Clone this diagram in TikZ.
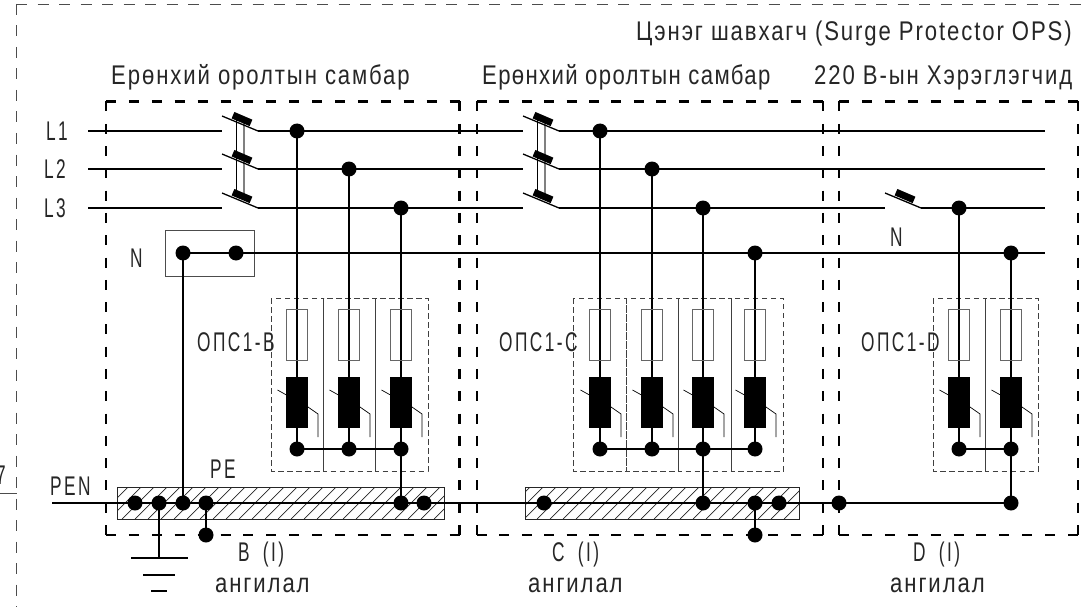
\documentclass[tikz,border=0pt]{standalone}
\usepackage{fontspec}
\setmainfont[FakeStretch=0.82,LetterSpace=7]{Liberation Sans}
\newfontfamily\capsf[FakeStretch=0.64,LetterSpace=9]{Liberation Sans}
\tikzset{
  x=1pt,y=-1pt,
  wire/.style={line width=2pt,black},
  thinw/.style={line width=.7pt,black},
  dot/.style={circle,fill=black,inner sep=0pt,minimum size=15pt},
  lbl/.style={inner sep=0pt,anchor=base west,font=\fontsize{27}{30}\selectfont,text=black!85},
  capl/.style={inner sep=0pt,anchor=base west,font=\fontsize{27}{30}\selectfont\capsf,text=black!85},
  outer/.style={line width=.9pt,black!70,dash pattern=on 11pt off 10.5pt},
  opsbox/.style={line width=.8pt,black!75,dash pattern=on 5.5pt off 3.5pt},
  var/.style={fill=black,draw=none},
  busbar/.style={draw=black!85,line width=.8pt},
  hatch/.style={line width=.7pt,black!85},
  blade/.style={line width=7pt,black},
  sw/.style={line width=1.3pt,black},
}
% thick dashed enclosure with an L at each corner
\newcommand\encl[5]{%
  \coordinate (#1tl) at (#2,#3); \coordinate (#1tr) at (#4,#3);
  \coordinate (#1bl) at (#2,#5); \coordinate (#1br) at (#4,#5);
  \pgfmathsetmacro\hn{round((#4-#2-10)/22.3)}%
  \pgfmathsetmacro\hoff{(#4-#2-10)/\hn-10}%
  \pgfmathsetmacro\vn{round((#5-#3-10)/22.3)}%
  \pgfmathsetmacro\voff{(#5-#3-10)/\vn-10}%
  \draw[line width=2.6pt,dash pattern=on 10pt off \hoff pt] (#1tl) -- (#1tr);
  \draw[line width=2.6pt,dash pattern=on 10pt off \hoff pt] (#1bl) -- (#1br);
  \draw[line width=2.6pt,dash pattern=on 10pt off \voff pt] (#1tl) -- (#1bl);
  \draw[line width=2.6pt,dash pattern=on 10pt off \voff pt] (#1tr) -- (#1br);
}
% breaker: name, left x, line y
\newcommand\brk[3]{%
  \coordinate (#1a) at (#2,#3-15); \coordinate (#1b) at (#2+36,#3);
  \coordinate (#1p) at (#2+11,#3-15.8); \coordinate (#1q) at (#2+29,#3-8.1);
  \draw[sw] (#1a) -- (#1b);
  \draw[blade] (#1p) -- (#1q);
}
% surge module: name, x, feed y
\newcommand\spd[3]{%
  \node[dot] (#1t) at (#2,#3) {};
  \node[dot] (#1d) at (#2,449) {};
  \draw[wire] (#1t.center) -- (#1d.center);
  \node[draw=black!60,line width=.9pt,minimum width=21pt,minimum height=51pt,inner sep=0pt] (#1f) at (#2,334.5) {};
  \draw[thinw] (#2-19.5,390) -- (#2+11,407) -- (#2+21,414) -- (#2+21,437);
  \node[var,minimum width=22pt,minimum height=51pt,inner sep=0pt] (#1v) at (#2,402.5) {};
}
\begin{document}
\begin{tikzpicture}
\useasboundingbox (0,0) rectangle (1081,607);
% outer frame
\coordinate (o0) at (16,4); \coordinate (o1) at (1081,4); \coordinate (o2) at (16,607);
\draw[outer] (o0) -- (o1);
\draw[outer] (o0) -- (o2);
\coordinate (s0) at (0,493); \coordinate (s1) at (17,493);
\draw[line width=.8pt,black!70] (s0) -- (s1);
\node[capl,anchor=base east] (seven) at (6,484) {7};
% enclosures
\encl{B}{106}{101.5}{459.5}{535}
\encl{C}{477}{101.5}{823}{535}
\encl{D}{839}{101.5}{1078}{535}
% PE bars
\begin{scope}
\clip (117,487) rectangle (444,519);
\foreach \i in {96,109,...,440}{\draw[hatch] (\i,519) -- (\i+32,487);}
\end{scope}
\begin{scope}
\clip (525,487) rectangle (799,519);
\foreach \i in {498,511,...,795}{\draw[hatch] (\i,519) -- (\i+32,487);}
\end{scope}
\node[busbar,minimum width=327pt,minimum height=32pt,inner sep=0pt] (busB) at (280.5,503) {};
\node[busbar,minimum width=274pt,minimum height=32pt,inner sep=0pt] (busC) at (662,503) {};
% SPD dashed cells
\draw[opsbox] (271,298) rectangle (323.5,471);
\draw[opsbox] (323.5,298) rectangle (375.5,471);
\draw[opsbox] (375.5,298) rectangle (428,471);
\draw[opsbox] (573,298) rectangle (626,471);
\draw[opsbox] (626,298) rectangle (678.5,471);
\draw[opsbox] (678.5,298) rectangle (731,471);
\draw[opsbox] (731,298) rectangle (783,471);
\draw[opsbox] (933,298) rectangle (985.5,471);
\draw[opsbox] (985.5,298) rectangle (1038,471);
% breakers
\coordinate (k1) at (236.5,120); \coordinate (k2) at (236.5,195);
\coordinate (k3) at (244,122); \coordinate (k4) at (244,197);
\draw[line width=.9pt,black] (k1) -- (k2);
\draw[line width=1.1pt,black!50] (k3) -- (k4);
\coordinate (k5) at (537.5,120); \coordinate (k6) at (537.5,195);
\coordinate (k7) at (545,122); \coordinate (k8) at (545,197);
\draw[line width=.9pt,black] (k5) -- (k6);
\draw[line width=1.1pt,black!50] (k7) -- (k8);
\brk{a}{222}{131}\brk{b}{222}{169}\brk{c}{222}{208}
\brk{e}{523}{131}\brk{f}{523}{169}\brk{g}{523}{208}
\brk{h}{885}{208}
% phase wires
\foreach \n/\yy in {1/131,2/169,3/208}{
  \coordinate (in\n) at (88,\yy);
  \coordinate (sa\n) at (222,\yy);
  \coordinate (sb\n) at (258,\yy);
  \coordinate (sc\n) at (523,\yy);
  \draw[wire] (in\n) -- (sa\n);
  \draw[wire] (sb\n) -- (sc\n);
}
\coordinate (sd1) at (559,131); \coordinate (end1) at (1045,131);
\coordinate (sd2) at (559,169); \coordinate (end2) at (1045,169);
\coordinate (sd3) at (559,208); \coordinate (end3) at (1045,208);
\draw[wire] (sd1) -- (end1);
\draw[wire] (sd2) -- (end2);
\coordinate (sh0) at (885,208); \coordinate (sh1) at (921,208);
\draw[wire] (sd3) -- (sh0);
\draw[wire] (sh1) -- (end3);
% N box and wire
\node[draw=black!70,line width=.8pt,minimum width=89pt,minimum height=46pt,inner sep=0pt] (nbox) at (209.5,253) {};
\node[dot] (n1) at (183,253) {};
\node[dot] (n2) at (236,253) {};
\coordinate (nend) at (1045,253);
\draw[wire] (n1.center) -- (nend);
% PEN wire
\coordinate (pen0) at (52,503);
\node[dot] (p1) at (135,503) {};
\node[dot] (p2) at (159,503) {};
\node[dot] (p3) at (183,503) {};
\node[dot] (p4) at (206,503) {};
\node[dot] (p5) at (401,503) {};
\node[dot] (p6) at (424,503) {};
\node[dot] (p7) at (544,503) {};
\node[dot] (p8) at (703,503) {};
\node[dot] (p9) at (755,503) {};
\node[dot] (p10) at (779,503) {};
\node[dot] (p11) at (839,503) {};
\node[dot] (p12) at (1011,503) {};
\draw[wire] (pen0) -- (p12.center);
\draw[wire] (n1.center) -- (p3.center);
\node[dot] (q1) at (206,535) {};
\node[dot] (q2) at (755,535) {};
\draw[wire] (p4.center) -- (q1.center);
\draw[wire] (p9.center) -- (q2.center);
% earth
\coordinate (g0) at (159,558);
\coordinate (g1) at (131,558); \coordinate (g2) at (188,558);
\coordinate (g3) at (143,575); \coordinate (g4) at (175,575);
\coordinate (g5) at (151,591); \coordinate (g6) at (167,591);
\draw[wire] (p2.center) -- (g0);
\draw[wire] (g1) -- (g2);
\draw[wire] (g3) -- (g4);
\draw[wire] (g5) -- (g6);
% surge modules
\spd{u1}{297}{131}\spd{u2}{349}{169}\spd{u3}{401}{208}
\spd{v1}{600}{131}\spd{v2}{652}{169}\spd{v3}{703}{208}\spd{v4}{755}{253}
\spd{w1}{959}{208}\spd{w2}{1011}{253}
\draw[wire] (u1d.center) -- (u3d.center);
\draw[wire] (v1d.center) -- (v4d.center);
\draw[wire] (w1d.center) -- (w2d.center);
\draw[wire] (u3d.center) -- (p5.center);
\draw[wire] (v3d.center) -- (p8.center);
\draw[wire] (w2d.center) -- (p12.center);
% labels
\node[lbl] (t0) at (636,41) {Цэнэг шавхагч (Surge Protector OPS)};
\node[lbl] (t1) at (111,85) {Ерөнхий оролтын самбар};
\node[lbl] (t2) at (482,85) {\addfontfeature{LetterSpace=5}Ерөнхий оролтын самбар};
\node[lbl] (t3) at (814,85) {220 В-ын Хэрэглэгчид};
\node[capl] (l1) at (46,140) {L1};
\node[capl] (l2) at (44,178) {L2};
\node[capl] (l3) at (44,217) {L3};
\node[capl] (nl) at (130,267) {N};
\node[capl] (nr) at (890,246) {N};
\node[capl] (o1t) at (197,351) {ОПС1-В};
\node[capl] (o2t) at (499,351) {ОПС1-С};
\node[capl] (o3t) at (861,351) {ОПС1-D};
\node[capl] (pen) at (50,495) {PEN};
\node[capl] (pe) at (210,478) {PE};
\node[capl] (cb) at (238,561) {B\hspace{6pt} (I)};
\node[capl] (cc) at (552,561) {C\hspace{6pt} (I)};
\node[capl] (cd) at (913,561) {D\hspace{6pt} (I)};
\node[lbl] (a1) at (215,592) {ангилал};
\node[lbl] (a2) at (528,592) {ангилал};
\node[lbl] (a3) at (890,592) {ангилал};
\end{tikzpicture}
\end{document}
